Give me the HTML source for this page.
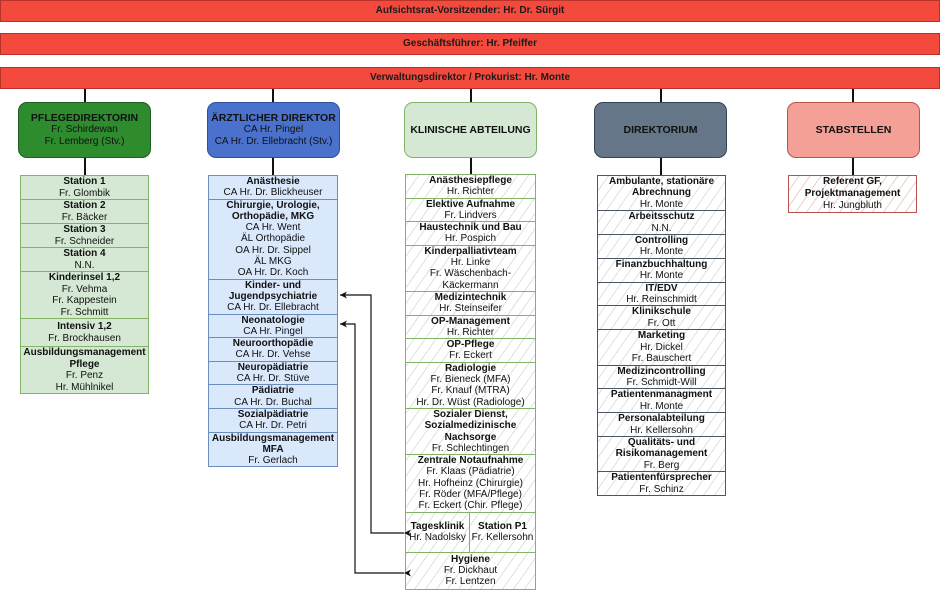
<!DOCTYPE html>
<html><head><meta charset="utf-8"><style>
*{box-sizing:border-box;margin:0;padding:0}
body{width:940px;height:592px;position:relative;background:#fff;font-family:"Liberation Sans",sans-serif;color:#111;overflow:hidden}
.bar{position:absolute;left:0;width:940px;height:22px;background:#f44a3e;border:1px solid #b83228;font-size:10px;font-weight:bold;text-align:center;line-height:20px;color:#1a1a1a}
.head{position:absolute;top:102px;height:56px;border-radius:9px;display:flex;flex-direction:column;justify-content:center;align-items:center;font-size:10px;line-height:12px;text-align:center;border:1px solid}
.head b{font-size:10.5px}
.col{position:absolute;font-size:10px;line-height:11.6px;text-align:center;border:1px solid}
.col>div{border-top:1px solid;border-color:inherit}
.col>div:first-child{border-top:none}
b{font-weight:bold}
.v{position:absolute;width:1.5px;background:#111}
.g{background:#d5e8d4;border-color:#82b366}
.bl{background:#dae8fc;border-color:#6c8ebf}
.hg{background:repeating-linear-gradient(-55deg,#fff 0 8px,#e0e0e0 8px 9px);}
.hp{background:repeating-linear-gradient(-55deg,#fff 0 8px,#f0cdca 8px 9px);}
</style></head><body>
<div class="bar" style="top:0">Aufsichtsrat-Vorsitzender: Hr. Dr. Sürgit</div>
<div class="bar" style="top:33px">Geschäftsführer: Hr. Pfeiffer</div>
<div class="bar" style="top:67px">Verwaltungsdirektor / Prokurist: Hr. Monte</div>

<div class="v" style="left:84px;top:89px;height:13px"></div>
<div class="v" style="left:272px;top:89px;height:13px"></div>
<div class="v" style="left:470px;top:89px;height:13px"></div>
<div class="v" style="left:660px;top:89px;height:13px"></div>
<div class="v" style="left:852px;top:89px;height:13px"></div>
<div class="v" style="left:84px;top:158px;height:17px"></div>
<div class="v" style="left:272px;top:158px;height:17px"></div>
<div class="v" style="left:470px;top:158px;height:16px"></div>
<div class="v" style="left:660px;top:158px;height:17px"></div>
<div class="v" style="left:852px;top:158px;height:17px"></div>

<div class="head" style="left:18px;width:133px;background:#2e8b2e;border-color:#1e5e1e"><b>PFLEGEDIREKTORIN</b>Fr. Schirdewan<br>Fr. Lemberg (Stv.)</div>
<div class="head" style="left:207px;width:133px;background:#4a72cc;border-color:#2b4f99"><b>ÄRZTLICHER DIREKTOR</b>CA Hr. Pingel<br>CA Hr. Dr. Ellebracht (Stv.)</div>
<div class="head" style="left:404px;width:133px;background:#d5e8d4;border-color:#82b366"><b>KLINISCHE ABTEILUNG</b></div>
<div class="head" style="left:594px;width:133px;background:#647687;border-color:#314354"><b>DIREKTORIUM</b></div>
<div class="head" style="left:787px;width:133px;background:#f4a097;border-color:#b85450"><b>STABSTELLEN</b></div>

<div class="col g" style="left:20px;top:175px;width:129px;line-height:11.5px">
<div><b>Station 1</b><br>Fr. Glombik</div>
<div><b>Station 2</b><br>Fr. Bäcker</div>
<div><b>Station 3</b><br>Fr. Schneider</div>
<div><b>Station 4</b><br>N.N.</div>
<div><b>Kinderinsel 1,2</b><br>Fr. Vehma<br>Fr. Kappestein<br>Fr. Schmitt</div>
<div style="padding:2px 0"><b>Intensiv 1,2</b><br>Fr. Brockhausen</div>
<div><b>Ausbildungsmanagement Pflege</b><br>Fr. Penz<br>Hr. Mühlnikel</div>
</div>

<div class="col bl" style="left:208px;top:175px;width:130px;line-height:11.3px">
<div><b>Anästhesie</b><br>CA Hr. Dr. Blickheuser</div>
<div><b>Chirurgie, Urologie, Orthopädie, MKG</b><br>CA Hr. Went<br>ÄL Orthopädie<br>OA Hr. Dr. Sippel<br>ÄL MKG<br>OA Hr. Dr. Koch</div>
<div><b>Kinder- und Jugendpsychiatrie</b><br>CA Hr. Dr. Ellebracht</div>
<div><b>Neonatologie</b><br>CA Hr. Pingel</div>
<div><b>Neuroorthopädie</b><br>CA Hr. Dr. Vehse</div>
<div><b>Neuropädiatrie</b><br>CA Hr. Dr. Stüve</div>
<div><b>Pädiatrie</b><br>CA Hr. Dr. Buchal</div>
<div><b>Sozialpädiatrie</b><br>CA Hr. Dr. Petri</div>
<div><b>Ausbildungsmanagement MFA</b><br>Fr. Gerlach</div>
</div>

<div class="col hg" style="left:405px;top:174px;width:131px;border-color:#82b366;line-height:11.3px">
<div><b>Anästhesiepflege</b><br>Hr. Richter</div>
<div><b>Elektive Aufnahme</b><br>Fr. Lindvers</div>
<div><b>Haustechnik und Bau</b><br>Hr. Pospich</div>
<div><b>Kinderpalliativteam</b><br>Hr. Linke<br>Fr. Wäschenbach-<br>Käckermann</div>
<div><b>Medizintechnik</b><br>Hr. Steinseifer</div>
<div><b>OP-Management</b><br>Hr. Richter</div>
<div><b>OP-Pflege</b><br>Fr. Eckert</div>
<div><b>Radiologie</b><br>Fr. Bieneck (MFA)<br>Fr. Knauf (MTRA)<br>Hr. Dr. Wüst (Radiologe)</div>
<div><b>Sozialer Dienst, Sozialmedizinische Nachsorge</b><br>Fr. Schlechtingen</div>
<div><b>Zentrale Notaufnahme</b><br>Fr. Klaas (Pädiatrie)<br>Hr. Hofheinz (Chirurgie)<br>Fr. Röder (MFA/Pflege)<br>Fr. Eckert (Chir. Pflege)</div>
<div style="display:flex;height:40px"><div style="width:64px;border-right:1px solid #82b366;display:flex;flex-direction:column;justify-content:center"><b>Tagesklinik</b>Hr. Nadolsky</div><div style="flex:1;display:flex;flex-direction:column;justify-content:center"><b>Station P1</b>Fr. Kellersohn</div></div>
<div style="padding:1px 0"><b>Hygiene</b><br>Fr. Dickhaut<br>Fr. Lentzen</div>
</div>

<div class="col hg" style="left:597px;top:175px;width:129px;border-color:#4a5866;line-height:11.4px">
<div><b>Ambulante, stationäre Abrechnung</b><br>Hr. Monte</div>
<div><b>Arbeitsschutz</b><br>N.N.</div>
<div><b>Controlling</b><br>Hr. Monte</div>
<div><b>Finanzbuchhaltung</b><br>Hr. Monte</div>
<div><b>IT/EDV</b><br>Hr. Reinschmidt</div>
<div><b>Klinikschule</b><br>Fr. Ott</div>
<div><b>Marketing</b><br>Hr. Dickel<br>Fr. Bauschert</div>
<div><b>Medizincontrolling</b><br>Fr. Schmidt-Will</div>
<div><b>Patientenmanagment</b><br>Hr. Monte</div>
<div><b>Personalabteilung</b><br>Hr. Kellersohn</div>
<div><b>Qualitäts- und Risikomanagement</b><br>Fr. Berg</div>
<div><b>Patientenfürsprecher</b><br>Fr. Schinz</div>
</div>

<div class="col hp" style="left:788px;top:175px;width:129px;border-color:#b85450;line-height:12px">
<div><b>Referent GF, Projektmanagement</b><br>Hr. Jungbluth</div>
</div>

<svg style="position:absolute;left:0;top:0" width="940" height="592">
<defs><marker id="a" markerWidth="8" markerHeight="8" refX="7" refY="4" orient="auto" markerUnits="userSpaceOnUse"><path d="M0,0.5 L7,4 L0,7.5 L2,4z" fill="#111"/></marker></defs>
<g fill="none" stroke="#111" stroke-width="1.2">
<path d="M404,533 H371 V295 H340" marker-start="url(#a)" marker-end="url(#a)"/>
<path d="M404,573 H355 V324 H340" marker-start="url(#a)" marker-end="url(#a)"/>
</g></svg>
</body></html>
